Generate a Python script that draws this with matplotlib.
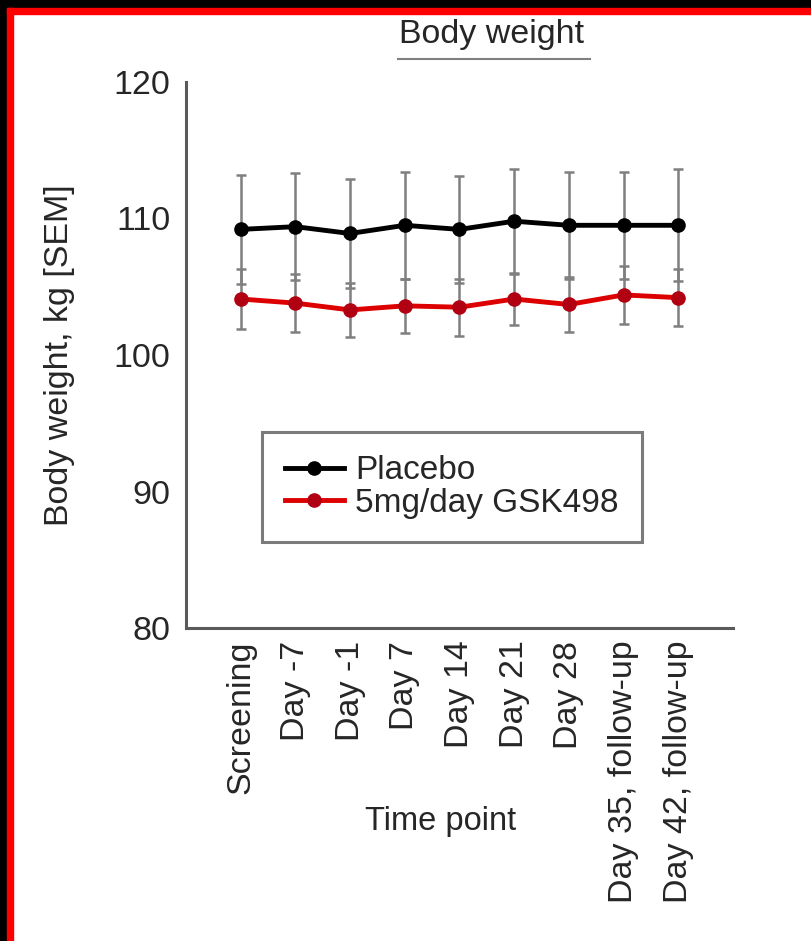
# Body weight over time, placebo vs GSK498, with SEM error bars
import numpy as np
import matplotlib.pyplot as plt
from matplotlib.patches import Rectangle
from matplotlib.lines import Line2D

plt.rcParams['font.family'] = ['Liberation Sans', 'DejaVu Sans']

# data
time_points = ['Screening', 'Day -7', 'Day -1', 'Day 7', 'Day 14', 'Day 21', 'Day 28',
               'Day 35, follow-up', 'Day 42, follow-up']
placebo = [109.2, 109.4, 108.9, 109.5, 109.2, 109.8, 109.5, 109.5, 109.5]
placebo_sem = [4.0, 3.9, 4.0, 3.9, 3.9, 3.85, 3.9, 3.9, 4.1]
gsk498 = [104.1, 103.8, 103.3, 103.6, 103.5, 104.1, 103.7, 104.4, 104.2]
gsk498_sem = [2.2, 2.1, 2.0, 2.0, 2.1, 1.9, 2.0, 2.1, 2.1]

text_col = '#262626'
axis_col = '#5a5a5a'

fig = plt.figure(figsize=(8.12, 9.41), dpi=100)
ax = fig.add_axes([0.229, 0.3326, 0.6737, 0.5803])

x = np.arange(len(time_points))

# error bars (grey) under the lines
ax.errorbar(x, placebo, yerr=placebo_sem, fmt='none', ecolor='#7f7f7f',
            elinewidth=1.8, capsize=3.5, capthick=1.8, zorder=2)
ax.errorbar(x, gsk498, yerr=gsk498_sem, fmt='none', ecolor='#7f7f7f',
            elinewidth=1.8, capsize=3.5, capthick=1.8, zorder=2)

ax.plot(x, placebo, color='black', marker='o', markersize=9.5, linewidth=3.5,
        label='Placebo', zorder=3)
ax.plot(x, gsk498, color='#dc0000', marker='o', markersize=9.5, linewidth=3.5,
        markerfacecolor='#b00012', markeredgecolor='#b00012',
        label='5mg/day GSK498', zorder=3)

ax.set_xlim(-1, 9)
ax.set_ylim(80, 120)
ax.set_yticks([80, 90, 100, 110, 120])
ax.set_xticks(x)
ax.set_xticklabels(time_points, rotation=90, va='top', ha='center')

for side in ['top', 'right']:
    ax.spines[side].set_visible(False)
for side in ['left', 'bottom']:
    ax.spines[side].set_color(axis_col)
    ax.spines[side].set_linewidth(2.2)

ax.tick_params(axis='both', length=0, labelsize=24.5, labelcolor=text_col)
ax.tick_params(axis='y', pad=11)
ax.tick_params(axis='x', pad=9)

ax.set_ylabel('Body weight, kg [SEM]', fontsize=24.5, color=text_col, va='center')
ax.yaxis.set_label_coords(-0.232, 0.5)
ax.set_xlabel('Time point', fontsize=23.5, color=text_col, va='center')
ax.xaxis.set_label_coords(0.466, -0.355)

leg = ax.legend(loc='upper left', bbox_to_anchor=(0.139, 0.359), fontsize=24,
                frameon=True, fancybox=False, edgecolor=axis_col,
                labelspacing=0.05, handlelength=1.75, handletextpad=0.35,
                borderpad=0.7, borderaxespad=0)
leg.get_frame().set_linewidth(2.2)
for t in leg.get_texts():
    t.set_color(text_col)

# title with underline
fig.text(0.605, 0.963, 'Body weight', fontsize=24.5, color=text_col,
         ha='center', va='center')
fig.add_artist(Line2D([0.490, 0.727], [0.937, 0.937], transform=fig.transFigure,
                      color='#808080', linewidth=1.5))

# frame of the screenshot: black and red bands on top and left
W, H = 812, 941
fig.add_artist(Rectangle((0, 1 - 8 / H), 1, 8 / H, transform=fig.transFigure,
                         color='black', zorder=10))
fig.add_artist(Rectangle((0, 0), 7 / W, 1, transform=fig.transFigure,
                         color='black', zorder=10))
fig.add_artist(Rectangle((7 / W, 1 - 14 / H), 1, 6 / H, transform=fig.transFigure,
                         color='red', zorder=10))
fig.add_artist(Rectangle((7 / W, 0), 6 / W, 1 - 8 / H, transform=fig.transFigure,
                         color='red', zorder=10))

plt.savefig('out.png', dpi=100)
